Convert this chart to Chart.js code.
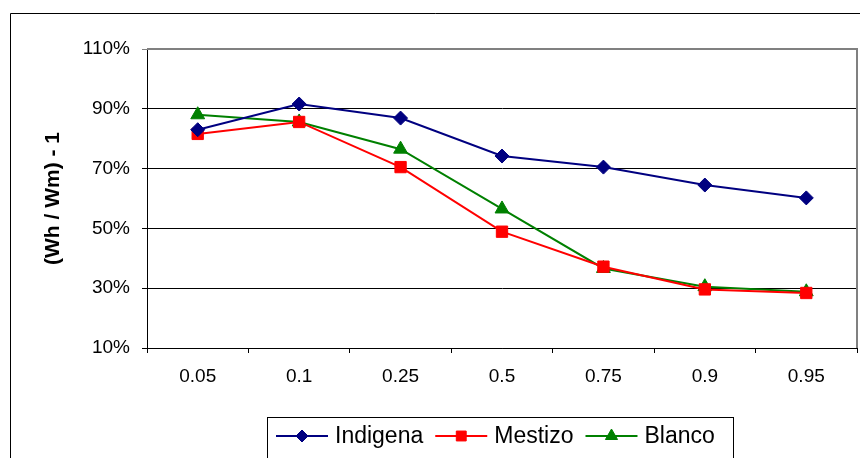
<!DOCTYPE html>
<html>
<head>
<meta charset="utf-8">
<script src="https://cdn.jsdelivr.net/npm/chart.js@4"></script>
<style>
  body { margin: 0; background: #fff; }
  #wrap { width: 860px; height: 458px; }
</style>
</head>
<body>
<div id="wrap"><canvas id="chart" width="860" height="458"></canvas></div>
<script>
// Data
const categories = ['0.05', '0.1', '0.25', '0.5', '0.75', '0.9', '0.95'];
const indigena = [83, 91.6, 86.9, 74.2, 70.5, 64.5, 60.2];
const mestizo = [81.6, 85.6, 70.5, 48.9, 37.2, 29.6, 28.4];
const blanco = [88, 85.6, 76.5, 56.5, 36.6, 30.5, 28.8];
const yTicks = [10, 30, 50, 70, 90, 110];

const FONT = "'Liberation Sans', Arial, sans-serif";

// Outer frame and plot-area border (top/right in grey)
const framePlugin = {
    id: 'frame',
    beforeDraw(chart) {
        const ctx = chart.ctx;
        ctx.save();
        ctx.fillStyle = '#fff';
        ctx.fillRect(0, 0, chart.width, chart.height);
        ctx.strokeStyle = '#000';
        ctx.lineWidth = 1;
        ctx.beginPath();
        ctx.moveTo(10.5, chart.height + 2);
        ctx.lineTo(10.5, 13.5);
        ctx.lineTo(chart.width + 2, 13.5);
        ctx.stroke();
        ctx.restore();
    },
    beforeDatasetsDraw(chart) {
        const a = chart.chartArea;
        const ctx = chart.ctx;
        ctx.save();
        ctx.strokeStyle = '#808080';
        ctx.lineWidth = 2;
        ctx.beginPath();
        ctx.moveTo(a.left, a.top);
        ctx.lineTo(a.right, a.top);
        ctx.lineTo(a.right, a.bottom);
        ctx.stroke();
        ctx.restore();
    }
};

// Legend with line + marker, boxed, at the bottom
const legendPlugin = {
    id: 'boxLegend',
    afterDraw(chart) {
        const ctx = chart.ctx;
        ctx.save();
        ctx.strokeStyle = '#000';
        ctx.lineWidth = 1;
        ctx.strokeRect(267.5, 417.5, 466, 60);
        ctx.font = '23px ' + FONT;
        ctx.textBaseline = 'middle';
        let x = 276;
        const y = 436;
        chart.data.datasets.forEach(ds => {
            ctx.strokeStyle = ds.borderColor;
            ctx.lineWidth = 2;
            ctx.beginPath();
            ctx.moveTo(x, y);
            ctx.lineTo(x + 52, y);
            ctx.stroke();
            ctx.fillStyle = ds.pointBackgroundColor;
            ctx.strokeStyle = ds.pointBorderColor;
            ctx.lineWidth = 1;
            Chart.helpers.drawPoint(ctx, {
                pointStyle: ds.pointStyle,
                radius: ds.pointRadius - 1,
                rotation: 0,
                borderWidth: 1
            }, x + 26, y);
            ctx.fillStyle = '#000';
            ctx.fillText(ds.label, x + 59, y + 1);
            x += 59 + ctx.measureText(ds.label).width + 12;
        });
        ctx.restore();
    }
};

function series(label, data, color, style, radius) {
    return {
        label: label,
        data: data,
        borderColor: color,
        backgroundColor: color,
        pointBackgroundColor: color,
        pointBorderColor: color,
        pointStyle: style,
        pointRadius: radius,
        pointBorderWidth: 1,
        borderWidth: 2,
        tension: 0
    };
}

new Chart(document.getElementById('chart'), {
    type: 'line',
    data: {
        labels: categories,
        datasets: [
            series('Indigena', indigena, '#000080', 'rectRot', 7),
            series('Mestizo', mestizo, '#ff0000', 'rect', 8),
            series('Blanco', blanco, '#008000', 'triangle', 8)
        ]
    },
    options: {
        responsive: false,
        animation: false,
        layout: { autoPadding: false, padding: { top: 49, right: 3, left: 0, bottom: 60 } },
        plugins: {
            legend: { display: false },
            tooltip: { enabled: false }
        },
        scales: {
            x: {
                offset: true,
                afterFit: s => { s.height = 50; s.paddingLeft = 0; s.paddingRight = 0; },
                grid: {
                    offset: true,
                    drawOnChartArea: false,
                    drawTicks: true,
                    tickLength: 5,
                    color: '#000'
                },
                border: { color: '#000', width: 1 },
                ticks: {
                    color: '#000',
                    font: { family: FONT, size: 19 },
                    padding: 12,
                    maxRotation: 0
                }
            },
            y: {
                min: 10,
                max: 110,
                afterFit: s => { s.width = 147; },
                afterBuildTicks: s => { s.ticks = yTicks.map(v => ({ value: v })); },
                grid: {
                    tickLength: 5,
                    color: ctx => (ctx.tick && ctx.tick.value === 110) ? '#808080' : '#000'
                },
                border: { color: '#000', width: 1 },
                ticks: {
                    color: '#000',
                    font: { family: FONT, size: 19 },
                    padding: 12,
                    callback: v => v + '%'
                },
                title: {
                    display: true,
                    text: '(Wh / Wm) - 1',
                    color: '#000',
                    font: { family: FONT, size: 21, weight: 'bold' },
                    padding: { top: 41, bottom: 0 }
                }
            }
        }
    },
    plugins: [framePlugin, legendPlugin]
});
</script>
</body>
</html>
